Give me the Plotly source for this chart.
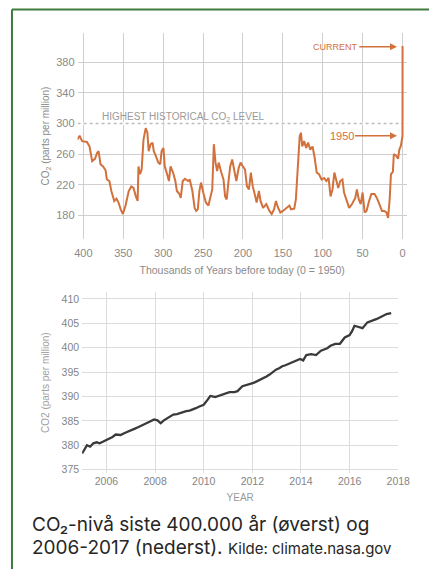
import plotly.graph_objects as go

# ---- Data: Vostok ice core CO2 (thousands of years before 1950, ppm) ----
vostok_kyr = [407.7, 404.8, 401.6, 395.6, 392.3, 390.7, 389.0, 385.5, 382.7, 381.0,
              378.6, 375.4, 372.2, 370.6, 367.4, 365.0, 361.3, 358.5, 356.0, 353.3,
              350.5, 347.2, 343.2, 340.0, 337.2, 334.3, 332.0, 331.0, 329.0, 327.0,
              324.7, 321.9, 319.8, 318.2, 315.8, 313.4, 311.8, 309.0, 306.1, 303.7,
              302.0, 299.7, 298.0, 295.7, 292.8, 290.8, 287.6, 284.8, 282.8, 279.6,
              278.0, 275.5, 272.7, 268.7, 266.7, 263.4, 260.6, 258.6, 256.6, 254.6,
              252.6, 249.8, 246.5, 243.3, 240.5, 238.5, 236.5, 234.4, 232.4, 230.4,
              227.2, 224.4, 222.4, 220.4, 218.3, 216.0, 213.5, 211.1, 208.3, 205.4,
              203.0, 200.2, 197.4, 195.0, 192.5, 190.1, 187.7, 185.3, 182.9, 180.0,
              178.0, 174.8, 170.8, 166.8, 164.0, 161.1, 158.7, 155.9, 153.1, 149.9,
              145.8, 141.8, 139.8, 135.7, 133.7, 130.9, 128.9, 127.3, 125.7, 123.3,
              120.8, 118.4, 115.6, 112.8, 110.4, 107.5, 104.7, 101.5, 98.3, 95.5,
              92.7, 90.2, 87.8, 85.4, 83.0, 80.6, 78.1, 75.3, 73.3, 70.1,
              66.9, 63.3, 59.2, 57.2, 54.8, 52.4, 50.0, 47.5, 45.1, 41.9,
              39.1, 35.1, 32.2, 29.0, 25.8, 23.0, 20.1, 18.1, 16.1, 14.5,
              12.1, 10.9, 8.0, 5.6, 4.0, 2.0, 0.5, 0.0, -0.067]
vostok_ppm = [279, 284, 277, 276, 270, 262, 251, 254, 262, 264,
              247, 244, 239, 227, 225, 212, 199, 202, 197, 188,
              182, 193, 212, 218, 216, 205, 199, 244, 234, 240,
              279, 294, 288, 264, 273, 275, 264, 257, 249, 247,
              264, 268, 244, 236, 225, 244, 236, 225, 212, 208,
              203, 225, 228, 225, 227, 212, 190, 186, 188, 212,
              223, 210, 197, 193, 208, 214, 273, 249, 238, 249,
              236, 227, 205, 201, 223, 244, 253, 240, 225, 242,
              249, 244, 240, 218, 214, 236, 218, 208, 197, 212,
              199, 190, 195, 186, 182, 188, 199, 190, 184, 186,
              190, 193, 188, 189, 201, 244, 283, 288, 270, 277,
              268, 275, 266, 270, 257, 236, 234, 227, 229, 225,
              229, 205, 214, 236, 225, 216, 225, 227, 210, 199,
              190, 195, 203, 214, 201, 195, 210, 184, 186, 199,
              208, 208, 203, 195, 186, 186, 184, 177, 201, 234,
              237, 260, 258, 254, 266, 271, 278, 284, 401]

# ---- Data: recent monthly CO2 (year, ppm) ----
mlo_year = [2005.00, 2005.09, 2005.20, 2005.33, 2005.46, 2005.60, 2005.72, 2005.85, 2005.99,
            2006.12, 2006.25, 2006.38, 2006.58, 2006.75, 2006.91, 2007.04, 2007.17, 2007.30,
            2007.44, 2007.60, 2007.77, 2007.96, 2008.10, 2008.23, 2008.36, 2008.56, 2008.75,
            2008.90, 2009.02, 2009.15, 2009.28, 2009.42, 2009.55, 2009.68, 2009.80, 2010.00,
            2010.14, 2010.27, 2010.47, 2010.67, 2010.86, 2011.06, 2011.26, 2011.39, 2011.59,
            2011.75, 2011.92, 2012.05, 2012.18, 2012.31, 2012.44, 2012.58, 2012.71, 2012.84,
            2012.97, 2013.10, 2013.23, 2013.36, 2013.50, 2013.63, 2013.76, 2013.96, 2014.09,
            2014.22, 2014.42, 2014.62, 2014.82, 2014.95, 2015.08, 2015.21, 2015.41, 2015.60,
            2015.80, 2016.00, 2016.10, 2016.20, 2016.40, 2016.53, 2016.73, 2016.92, 2017.12,
            2017.32, 2017.52, 2017.71]
mlo_ppm = [378.3, 379.0, 380.0, 379.7, 380.4, 380.6, 380.4, 380.7, 381.0,
           381.3, 381.7, 382.2, 382.1, 382.5, 382.8, 383.0, 383.4, 383.7,
           384.1, 384.4, 384.8, 385.3, 385.1, 384.5, 385.1, 385.8, 386.3,
           386.4, 386.6, 386.8, 387.0, 387.1, 387.3, 387.6, 387.9, 388.3,
           389.2, 390.1, 389.9, 390.2, 390.6, 390.9, 390.9, 391.1, 392.1,
           392.3, 392.6, 392.8, 393.1, 393.4, 393.8, 394.1, 394.5, 395.0,
           395.5, 395.8, 396.2, 396.4, 396.7, 397.0, 397.2, 397.7, 397.4,
           398.5, 398.7, 398.5, 399.4, 399.6, 399.9, 400.4, 400.8, 400.8,
           402.1, 402.6, 403.4, 404.5, 404.2, 404.0, 405.2, 405.5, 405.9,
           406.4, 406.9, 407.1]

top_xticks = [400, 350, 300, 250, 200, 150, 100, 50, 0]
top_yticks = [180, 220, 260, 300, 340, 380]
bot_xticks = [2006, 2008, 2010, 2012, 2014, 2016, 2018]
bot_yticks = [375, 380, 385, 390, 395, 400, 405, 410]
highest_level = 300
current_level = 400
level_1950 = 284

# The page body has an 8px margin; the figure fills the rest of the window.
OFF = 8
WIN_W, WIN_H = 437, 569
W, H = WIN_W - OFF, WIN_H - OFF
ORANGE = "#d2713c"
GREY_TXT = "#8a8a8a"
CHART_FONT = "Liberation Sans, Arial, sans-serif"
CAPTION_FONT = "Inter, Roboto, sans-serif"


def px(xp):
    """window x pixel -> paper coordinate"""
    return (xp - OFF) / W


def py(yp):
    """window y pixel -> paper coordinate"""
    return 1 - (yp - OFF) / H


fig = go.Figure()
fig.add_trace(go.Scatter(x=vostok_kyr, y=vostok_ppm, mode="lines",
                         line=dict(color=ORANGE, width=2), xaxis="x", yaxis="y",
                         hoverinfo="skip"))
fig.add_trace(go.Scatter(x=mlo_year, y=mlo_ppm, mode="lines",
                         line=dict(color="#3a3a3a", width=2.3), xaxis="x2", yaxis="y2",
                         hoverinfo="skip"))


def axis_common(grid, size=11, color=GREY_TXT):
    return dict(showgrid=True, gridcolor=grid, gridwidth=1.3, zeroline=False,
                showline=False, ticks="",
                tickfont=dict(family=CHART_FONT, size=size, color=color))


fig.update_layout(
    width=W, height=H, margin=dict(l=0, r=0, t=0, b=0),
    paper_bgcolor="white", plot_bgcolor="white", showlegend=False,
    xaxis=dict(domain=[px(77), px(418)], range=[407.3, -5.2], tickvals=top_xticks,
               anchor="y", ticklabelstandoff=6,
               title=dict(text="Thousands of Years before today (0 = 1950)", standoff=8,
                          font=dict(family=CHART_FONT, size=10.5, color=GREY_TXT)),
               **axis_common("#cfcfcf")),
    yaxis=dict(domain=[py(240), py(33)], range=[149.2, 418.1], tickvals=top_yticks,
               anchor="x", ticklabelstandoff=2,
               title=dict(text="CO<sub>2</sub> (parts per million)", standoff=4,
                          font=dict(family=CHART_FONT, size=10, color=GREY_TXT)),
               **axis_common("#cfcfcf")),
    xaxis2=dict(domain=[px(81.7), px(409.3)], range=[2005.0, 2018.0], tickvals=bot_xticks,
                anchor="y2",
                title=dict(text="YEAR", standoff=8,
                           font=dict(family=CHART_FONT, size=10, color="#9a9a9a")),
                **axis_common("#dcdcdc", 10.5, "#858585")),
    yaxis2=dict(domain=[py(475), py(293)], range=[374.24, 411.43], tickvals=bot_yticks,
                anchor="x2", ticklabelstandoff=2,
                title=dict(text="CO2 (parts per million)", standoff=10,
                           font=dict(family=CHART_FONT, size=10, color="#a0a0a0")),
                **axis_common("#dcdcdc", 10.5, "#858585")),
)

shapes = [
    # hide the solid grid line under the historical level
    dict(type="line", xref="x", yref="y", x0=407.3, x1=-5.2, y0=highest_level, y1=highest_level,
         line=dict(color="white", width=2.5), layer="between"),
    dict(type="line", xref="x", yref="y", x0=407.3, x1=0, y0=highest_level, y1=highest_level,
         line=dict(color="#bdbdbd", width=1.6, dash="dot"), layer="between"),
    # green frame (left and top edges)
    dict(type="line", xref="paper", yref="paper", x0=px(9), x1=1.02, y0=py(9.5), y1=py(9.5),
         line=dict(color="#3f7a3f", width=2)),
    dict(type="line", xref="paper", yref="paper", x0=px(9), x1=px(9), y0=py(9.5), y1=-0.02,
         line=dict(color="#3f7a3f", width=2)),
]
fig.update_layout(shapes=shapes)

annotations = [
    dict(text="HIGHEST HISTORICAL CO<sub>2</sub> LEVEL", xref="x", yref="y", x=379.4, y=309,
         xanchor="left", yanchor="middle", showarrow=False,
         font=dict(family=CHART_FONT, size=10, color="#9a9a9a")),
    dict(text="CURRENT", xref="x", yref="y", x=6.9, y=current_level, axref="x", ayref="y",
         ax=84.3, ay=current_level, showarrow=True, arrowhead=2, arrowsize=1, arrowwidth=1.4,
         arrowcolor=ORANGE, font=dict(family=CHART_FONT, size=9, color=ORANGE)),
    dict(text="1950", xref="x", yref="y", x=6.9, y=level_1950, axref="x", ayref="y",
         ax=76.4, ay=level_1950, showarrow=True, arrowhead=2, arrowsize=1, arrowwidth=1.4,
         arrowcolor=ORANGE, font=dict(family=CHART_FONT, size=11, color=ORANGE)),
    dict(text="CO₂-nivå siste 400.000 år (øverst) og",
         xref="paper", yref="paper", x=px(28), y=py(526.2), xanchor="left", yanchor="middle",
         align="left", showarrow=False,
         font=dict(family=CAPTION_FONT, size=19, color="#262626")),
    dict(text="2006-2017 (nederst). <span style='font-size:15px'>Kilde: climate.nasa.gov</span>",
         xref="paper", yref="paper", x=px(28), y=py(549), xanchor="left", yanchor="middle",
         align="left", showarrow=False,
         font=dict(family=CAPTION_FONT, size=19, color="#262626")),
]
fig.update_layout(annotations=annotations)

fig.write_html("out.html")
